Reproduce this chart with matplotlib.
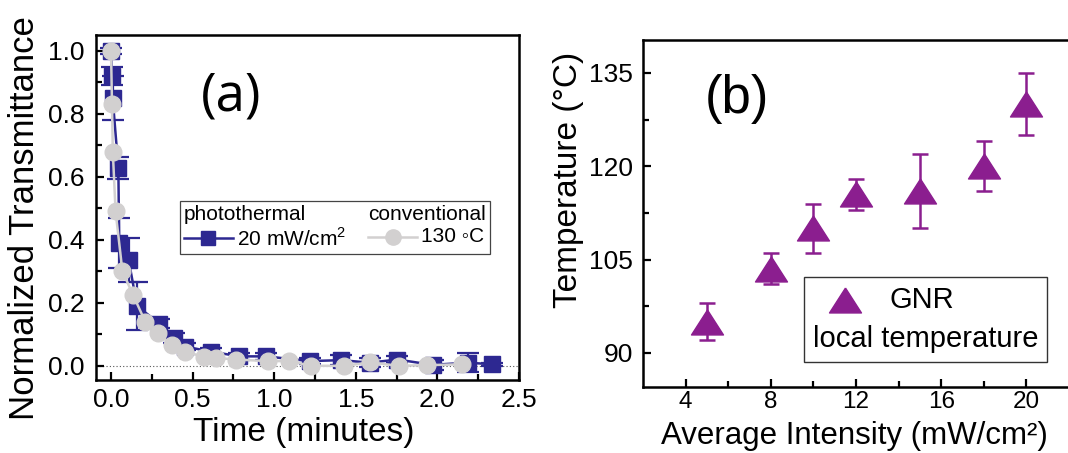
import matplotlib
matplotlib.use('Agg')
import matplotlib.pyplot as plt
from matplotlib.lines import Line2D
from matplotlib.offsetbox import AnchoredOffsetbox, DrawingArea, HPacker, TextArea, VPacker

plt.rcParams['font.family'] = ['Liberation Sans', 'DejaVu Sans']
plt.rcParams['mathtext.fontset'] = 'custom'
plt.rcParams['mathtext.rm'] = 'Liberation Sans'

# ---- panel (a): normalized transmittance vs time ----
photo_t = [0.0, 0.005, 0.01, 0.045, 0.05, 0.108, 0.16, 0.296, 0.388, 0.456,
           0.613, 0.787, 0.95, 1.218, 1.41, 1.585, 1.755, 1.97, 2.185, 2.335]
photo_tr = [1.0, 0.92, 0.85, 0.628, 0.39, 0.336, 0.19, 0.134, 0.088, 0.061,
            0.045, 0.03, 0.03, 0.015, 0.018, 0.01, 0.02, 0.003, 0.01, 0.005]
photo_err = [0.01, 0.03, 0.07, 0.035, 0.08, 0.07, 0.075, 0.015, 0.015, 0.01,
             0.01, 0.01, 0.01, 0.01, 0.015, 0.015, 0.012, 0.015, 0.03, 0.005]

conv_t = [0.0, 0.006, 0.011, 0.028, 0.07, 0.136, 0.21, 0.29, 0.372, 0.452, 0.568,
          0.645, 0.768, 0.96, 1.09, 1.228, 1.43, 1.585, 1.765, 1.937, 2.15]
conv_tr = [1.0, 0.83, 0.68, 0.49, 0.30, 0.224, 0.14, 0.103, 0.065, 0.045, 0.029,
           0.025, 0.02, 0.015, 0.015, 0.0, 0.0, 0.011, 0.0, 0.002, 0.005]
conv_err = [0.01] * len(conv_t)

# ---- panel (b): local temperature vs intensity ----
intensity = [5, 8, 10, 12, 15, 18, 20]
temperature = [95, 103.5, 110, 115.5, 116, 120, 130]
temp_err = [3, 2.5, 4, 2.5, 6, 4, 5]

blue = '#2D2891'
grey = '#D2D0D0'
purple = '#8B1E8F'

W, H = 1068, 453
fig = plt.figure(figsize=(W / 100, H / 100), dpi=100)

def px_box(l, t, r, b):
    return [l / W, 1 - b / H, (r - l) / W, (b - t) / H]

ax1 = fig.add_axes(px_box(96, 35, 519, 380))
ax2 = fig.add_axes(px_box(643, 40, 1069, 387))

for ax in (ax1, ax2):
    for s in ax.spines.values():
        s.set_linewidth(1.8)
    ax.tick_params(which='both', direction='in', top=False, right=False, width=1.6)
    ax.tick_params(which='major', length=6, labelsize=19)
    ax.tick_params(which='minor', length=4)

# panel (a)
ax1.axhline(0, color='#555555', ls=(0, (1, 2)), lw=0.8, zorder=1)
ax1.errorbar(photo_t, photo_tr, yerr=photo_err, color=blue, marker='s', ms=11,
             lw=1.8, elinewidth=1.6, capsize=8, capthick=1.6, zorder=2)
ax1.errorbar(conv_t, conv_tr, yerr=conv_err, color=grey, marker='o', ms=12,
             lw=1.8, elinewidth=1.2, capsize=4, zorder=3)
ax1.set_xlim(-0.092, 2.5)
ax1.set_ylim(-0.045, 1.05)
ax1.set_xticks([0.0, 0.5, 1.0, 1.5, 2.0, 2.5])
ax1.set_xticks([0.25, 0.75, 1.25, 1.75, 2.25], minor=True)
ax1.set_yticks([0.0, 0.2, 0.4, 0.6, 0.8, 1.0])
ax1.set_yticks([0.1, 0.3, 0.5, 0.7, 0.9], minor=True)
ax1.xaxis.set_major_formatter(matplotlib.ticker.FormatStrFormatter('%.1f'))
ax1.yaxis.set_major_formatter(matplotlib.ticker.FormatStrFormatter('%.1f'))
ax1.tick_params(axis='x', pad=6)
ax1.tick_params(axis='y', pad=8)
ax1.text(0.32, 0.82, '(a)', transform=ax1.transAxes, fontsize=38,
         family=['Open Sans', 'DejaVu Sans'], ha='center', va='center')

def key(color, marker, ms, w=35, h=14):
    da = DrawingArea(w, h, 0, 0)
    da.add_artist(Line2D([0, w], [h / 2, h / 2], color=color, lw=1.8))
    da.add_artist(Line2D([w / 2], [h / 2], color=color, marker=marker, ms=ms, lw=0))
    return da

lsize = dict(size=15)
col1 = VPacker(children=[TextArea('photothermal', textprops=lsize),
                         HPacker(children=[key(blue, 's', 10),
                                           TextArea('20 mW/cm$^2$', textprops=lsize)],
                                 align='center', pad=0, sep=3)],
               align='left', pad=0, sep=2)
col2 = VPacker(children=[TextArea('conventional', textprops=lsize),
                         HPacker(children=[key(grey, 'o', 11),
                                           TextArea('130 \u25e6C', textprops=lsize)],
                                 align='center', pad=0, sep=3)],
               align='left', pad=0, sep=2)
box1 = AnchoredOffsetbox(loc='upper left', child=HPacker(children=[col1, col2], pad=0, sep=16),
                         pad=0.2, borderpad=0, frameon=True, prop=lsize,
                         bbox_to_anchor=(0.1986, 0.519), bbox_transform=ax1.transAxes)
box1.patch.set_edgecolor('#444444')
box1.patch.set_linewidth(0.9)
ax1.add_artist(box1)

# panel (b)
tri = [(0, 0.78), (-1, -0.78), (1, -0.78), (0, 0.78)]
ax2.errorbar(intensity, temperature, yerr=temp_err, color=purple, marker=tri, ms=23,
             lw=0, elinewidth=1.8, capsize=6, capthick=1.8, zorder=3)
ax2.set_xlim(2, 22)
ax2.set_ylim(84.5, 140.3)
ax2.set_xticks([4, 8, 12, 16, 20])
ax2.set_xticks([6, 10, 14, 18], minor=True)
ax2.set_yticks([90, 105, 120, 135])
ax2.set_yticks([97.5, 112.5, 127.5], minor=True)
ax2.tick_params(axis='x', pad=3, labelsize=17.5)
ax2.tick_params(axis='y', pad=7)
ax2.text(0.22, 0.83, '(b)', transform=ax2.transAxes, fontsize=38,
         ha='center', va='center')

bsize = dict(size=21)
da = DrawingArea(47, 20, 0, 0)
da.add_artist(Line2D([23.5], [10], color=purple, marker=tri, ms=23, lw=0))
box2 = AnchoredOffsetbox(loc='upper left',
                         child=VPacker(children=[HPacker(children=[da, TextArea('GNR', textprops=bsize)],
                                                         align='center', pad=0, sep=8),
                                                 TextArea('local temperature', textprops=bsize)],
                                       align='left', pad=0, sep=8),
                         pad=0.3, borderpad=0, frameon=True, prop=bsize,
                         bbox_to_anchor=(0.378, 0.317), bbox_transform=ax2.transAxes)
box2.patch.set_edgecolor('#333333')
box2.patch.set_linewidth(1.0)
ax2.add_artist(box2)

# axis titles
fig.text(25 / W, 1 - 218 / H, 'Normalized Transmittance', rotation=90, fontsize=25,
         ha='center', va='center')
fig.text(304 / W, 1 - 432 / H, 'Time (minutes)', fontsize=24, ha='center', va='center')
fig.text(568 / W, 1 - 180 / H, 'Temperature (\u00b0C)', rotation=90, fontsize=24,
         ha='center', va='center')
fig.text(854 / W, 1 - 436 / H, 'Average Intensity (mW/cm\u00b2)', fontsize=22.5,
         ha='center', va='center')

fig.savefig('out.png', dpi=100)
